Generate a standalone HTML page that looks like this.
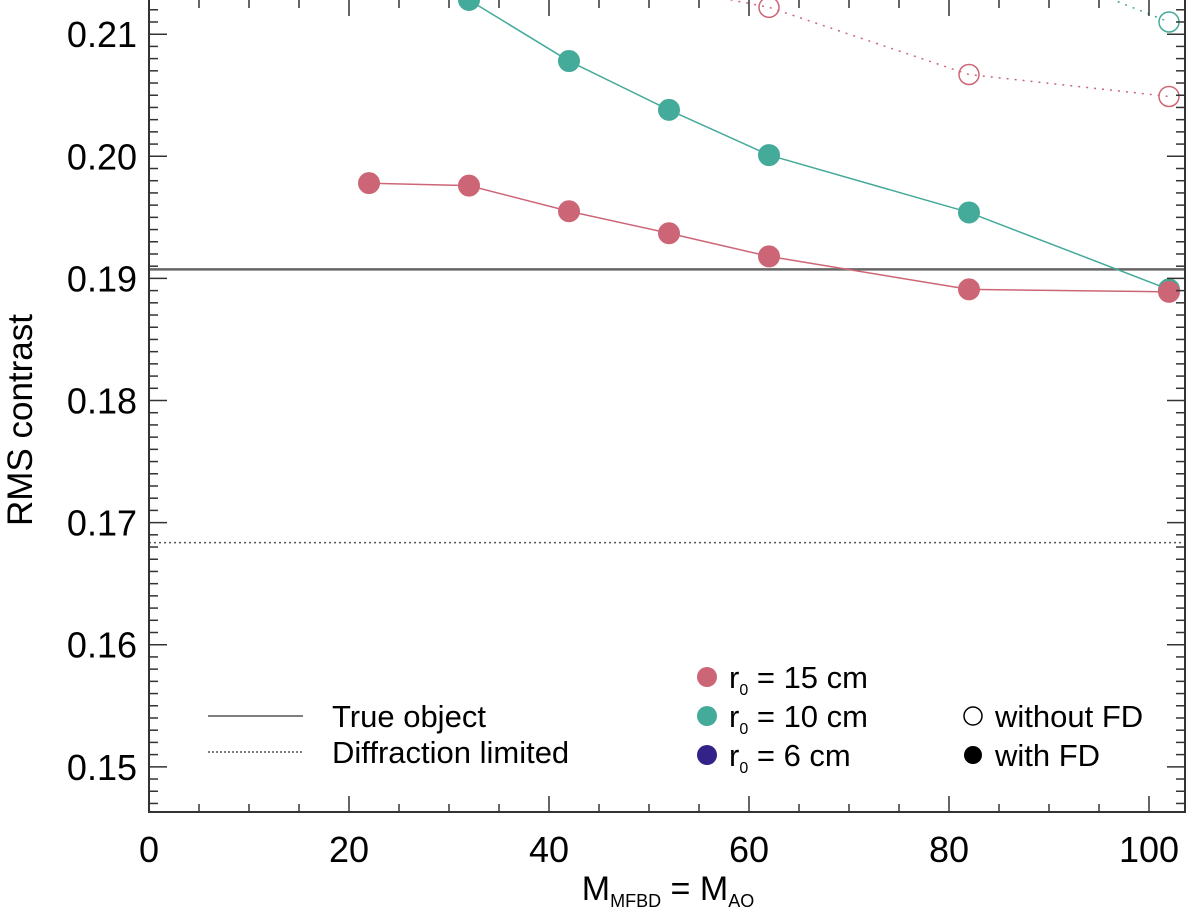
<!DOCTYPE html>
<html><head><meta charset="utf-8"><style>
body{margin:0;background:#fff}
svg text{font-family:"Liberation Sans",sans-serif;fill:#000}
</style></head><body>
<svg id="chart" width="1200" height="913" viewBox="0 0 1200 913" xmlns="http://www.w3.org/2000/svg">
<defs><clipPath id="clip"><rect x="149" y="0" width="1036" height="812"/></clipPath></defs>
<g id="marks" clip-path="url(#clip)"></g>
<g id="axes"></g>
<text transform="translate(32,420) rotate(-90)" text-anchor="middle" font-size="35">RMS contrast</text>
<text x="668" y="900" text-anchor="middle" font-size="34">M<tspan font-size="18" dy="7">MFBD</tspan><tspan dy="-7"> = M</tspan><tspan font-size="18" dy="7">AO</tspan></text>
<g>
<line x1="208" y1="716" x2="303" y2="716" stroke="#555" stroke-width="1.5"/>
<text x="332" y="727" font-size="31">True object</text>
<line x1="208" y1="752" x2="303" y2="752" stroke="#555" stroke-width="1.5" stroke-dasharray="2,2"/>
<text x="332" y="763" font-size="31">Diffraction limited</text>
<circle cx="707" cy="677" r="10" fill="#cc6677"/>
<text x="729" y="688" font-size="31">r<tspan font-size="16" dy="7">0</tspan><tspan dy="-7"> = 15 cm</tspan></text>
<circle cx="707" cy="716" r="10" fill="#44aa99"/>
<text x="729" y="727" font-size="31">r<tspan font-size="16" dy="7">0</tspan><tspan dy="-7"> = 10 cm</tspan></text>
<circle cx="707" cy="755" r="10" fill="#332288"/>
<text x="729" y="766" font-size="31">r<tspan font-size="16" dy="7">0</tspan><tspan dy="-7"> = 6 cm</tspan></text>
<circle cx="973" cy="716" r="9" fill="none" stroke="#000" stroke-width="1.5"/>
<text x="995" y="727" font-size="31">without FD</text>
<circle cx="973" cy="755" r="9" fill="#000"/>
<text x="995" y="766" font-size="31">with FD</text>
</g>
</svg>
<script>
const redX=[22,32,42,52,62,82,102];
const redFD=[0.1978,0.1976,0.1955,0.1937,0.1918,0.1891,0.1889];
const tealX=[22,32,42,52,62,82,102];
const tealFD=[0.2185,0.2128,0.2078,0.2038,0.2001,0.1954,0.1891];
const redNoX=[42,52,62,82,102];
const redNoFD=[0.2165,0.2138,0.2122,0.2067,0.2049];
const tealNoX=[82,102];
const tealNoFD=[0.2175,0.2110];
const trueObject=0.19074;
const diffLimit=0.16836;
const xTicks=[0,20,40,60,80,100];
const yTicks=[0.15,0.16,0.17,0.18,0.19,0.20,0.21];
const X0=149,X1=1185,Y0=812,Y1=0;
const xmin=0,xmax=103.6,ymin=0.1463,ymax=0.2128;
const sx=v=>X0+(v-xmin)/(xmax-xmin)*(X1-X0);
const sy=v=>Y0-(v-ymin)/(ymax-ymin)*(Y0-Y1);
const NS='http://www.w3.org/2000/svg';
function mk(tag,parent,attrs){const e=document.createElementNS(NS,tag);for(const k in attrs)e.setAttribute(k,attrs[k]);parent.appendChild(e);return e;}
const marks=document.getElementById('marks'),axes=document.getElementById('axes');
let l=mk('line',marks,{x1:X0,x2:X1,y1:sy(trueObject),y2:sy(trueObject),stroke:'#666','stroke-width':2.5});


l=mk('line',marks,{x1:X0,x2:X1,y1:sy(diffLimit),y2:sy(diffLimit),stroke:'#555','stroke-width':1.5,'stroke-dasharray':'2,3'});


function series(xs,ys,color,filled,name){
  const pts=xs.map((x,i)=>sx(x)+','+sy(ys[i])).join(' ');
  const pl=mk('polyline',marks,{points:pts,fill:'none',stroke:color,'stroke-width':1.5});
  if(!filled)pl.setAttribute('stroke-dasharray','2,6');
  
  
  xs.forEach((x,i)=>{
    const c=mk('circle',marks,{cx:sx(x),cy:sy(ys[i]),r:filled?10.5:10,fill:filled?color:'none',stroke:color,'stroke-width':filled?1:1.5});
    
    
  });
}
series(redNoX,redNoFD,'#cc6677',false,'r15-without-fd');
series(tealNoX,tealNoFD,'#44aa99',false,'r10-without-fd');
series(tealX,tealFD,'#44aa99',true,'r10-with-fd');
series(redX,redFD,'#cc6677',true,'r15-with-fd');
const fr=mk('rect',axes,{x:X0,y:-2,width:X1-X0,height:Y0+2,fill:'none',stroke:'#333','stroke-width':2});


for(let v=0;v<=xmax;v+=5){
  const big=v%20===0,len=big?16:8;
  mk('line',axes,{x1:sx(v),x2:sx(v),y1:Y0,y2:Y0-len,stroke:'#333','stroke-width':1.5});
  mk('line',axes,{x1:sx(v),x2:sx(v),y1:Y1,y2:Y1+len,stroke:'#333','stroke-width':1.5});
}
xTicks.forEach(v=>{const t=mk('text',axes,{x:sx(v),y:862,'text-anchor':'middle','font-size':36});t.textContent=v;

});
for(let k=Math.ceil(ymin*1000);k<=ymax*1000;k++){
  const v=k/1000,big=k%10===0,len=big?18:9;
  mk('line',axes,{x1:X0,x2:X0+len,y1:sy(v),y2:sy(v),stroke:'#333','stroke-width':1.5});
  mk('line',axes,{x1:X1,x2:X1-len,y1:sy(v),y2:sy(v),stroke:'#333','stroke-width':1.5});
}
yTicks.forEach(v=>{const t=mk('text',axes,{x:137,y:sy(v)+13,'text-anchor':'end','font-size':36});t.textContent=v.toFixed(2);

});
</script>
</body></html>
